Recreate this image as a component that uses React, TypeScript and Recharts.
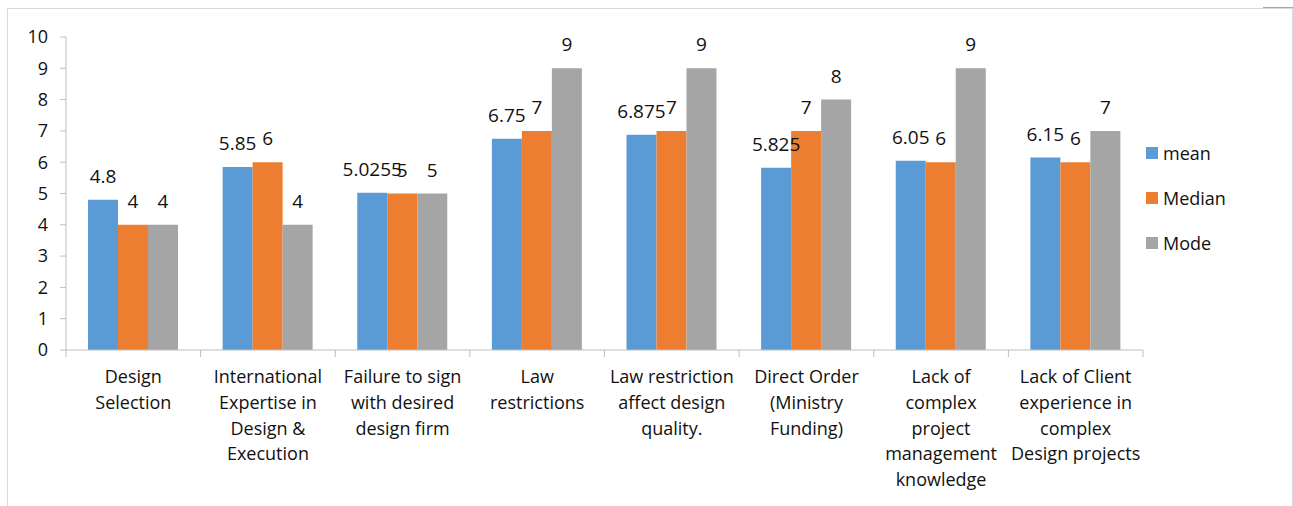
import React from "react";
import { BarChart, Bar, XAxis, YAxis, LabelList } from "recharts";

const categories = [
  "Design\nSelection",
  "International\nExpertise in\nDesign &\nExecution",
  "Failure to sign\nwith desired\ndesign firm",
  "Law\nrestrictions",
  "Law restriction\naffect design\nquality.",
  "Direct Order\n(Ministry\nFunding)",
  "Lack of\ncomplex\nproject\nmanagement\nknowledge",
  "Lack of Client\nexperience in\ncomplex\nDesign projects",
];
const meanValues = [4.8, 5.85, 5.0255, 6.75, 6.875, 5.825, 6.05, 6.15];
const medianValues = [4, 6, 5, 7, 7, 7, 6, 6];
const modeValues = [4, 4, 5, 9, 9, 8, 9, 7];
const yTicks = [0, 1, 2, 3, 4, 5, 6, 7, 8, 9, 10];

const series = [
  { key: "mean", name: "mean", color: "#5B9BD5" },
  { key: "median", name: "Median", color: "#ED7D31" },
  { key: "mode", name: "Mode", color: "#A5A5A5" },
];

const data = categories.map((name, i) => ({
  name,
  mean: meanValues[i],
  median: medianValues[i],
  mode: modeValues[i],
}));

const FONT = "'Open Sans', sans-serif";
const AXIS = "#BFBFBF";

const CategoryTick = (props: any) => {
  const { x, y, payload, index } = props;
  const half = payload.offset || 67.3;
  const lines = String(payload.value).split("\n");
  return (
    <g>
      <line x1={x - half} x2={x - half} y1={y} y2={y + 7} stroke={AXIS} />
      {index === categories.length - 1 && (
        <line x1={x + half} x2={x + half} y1={y} y2={y + 7} stroke={AXIS} />
      )}
      <text x={x} y={y + 33} textAnchor="middle" fontSize={18} fontFamily={FONT} fill="#111">
        {lines.map((l, i) => (
          <tspan key={i} x={x} dy={i === 0 ? 0 : 25.8}>
            {l}
          </tspan>
        ))}
      </text>
    </g>
  );
};

export default function App() {
  return (
    <>
      <style>{`body{margin:0;overflow:hidden;}`}</style>
      <div
        style={{
          position: "relative",
          margin: "8px 0 0 7px",
          width: 1286,
          height: 498,
          boxSizing: "border-box",
          borderTop: "1px solid #D9D9D9",
          borderLeft: "1px solid #D9D9D9",
          borderRight: "1px solid #D9D9D9",
        }}
      >
        <div style={{ position: "absolute", top: -2, left: 1255, width: 31, height: 1, background: "#A6A6A6" }} />
        <BarChart
          width={1284}
          height={497}
          data={data}
          margin={{ top: 28, right: 149, left: 0, bottom: 0 }}
          barGap={0}
          barSize={30}
        >
          <XAxis
            dataKey="name"
            height={156}
            interval={0}
            tickLine={false}
            tickSize={0}
            tickMargin={0}
            stroke={AXIS}
            tick={<CategoryTick />}
          />
          <YAxis
            width={58}
            domain={[0, 10]}
            ticks={yTicks}
            interval={0}
            stroke={AXIS}
            tickSize={6}
            tickMargin={12}
            tick={{ fontSize: 18, fontFamily: FONT, fill: "#111" }}
          />
          {series.map((s) => (
            <Bar key={s.key} dataKey={s.key} name={s.name} fill={s.color} isAnimationActive={false}>
              <LabelList dataKey={s.key} position="top" offset={17} fontSize={19} fontFamily={FONT} fill="#111" />
            </Bar>
          ))}
        </BarChart>
        <div
          style={{
            position: "absolute",
            left: 1138,
            top: 122,
            width: 140,
            fontFamily: FONT,
            fontSize: 18,
            color: "#111",
          }}
        >
          {series.map((s) => (
            <div key={s.key} style={{ height: 44.8, display: "flex", alignItems: "center" }}>
              <span
                style={{ width: 12, height: 12, background: s.color, display: "inline-block", marginRight: 5 }}
              />
              {s.name}
            </div>
          ))}
        </div>
      </div>
    </>
  );
}
